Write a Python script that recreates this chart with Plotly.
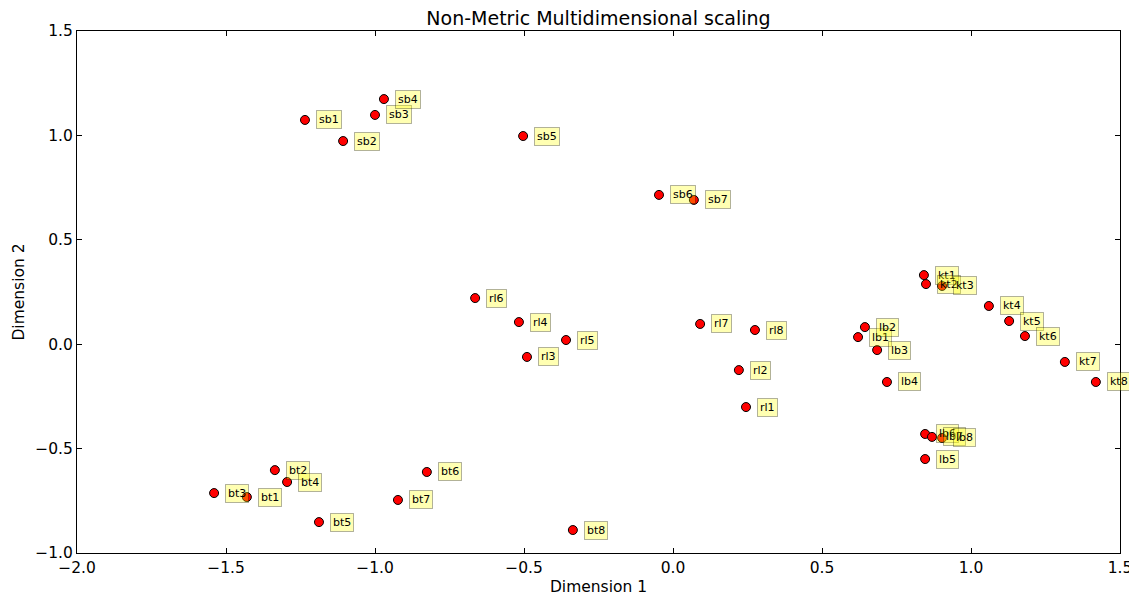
import plotly.graph_objects as go

labels = ["sb1","sb2","sb3","sb4","sb5","sb6","sb7",
          "kt1","kt2","kt3","kt4","kt5","kt6","kt7","kt8",
          "lb1","lb2","lb3","lb4","lb5","lb6","lb7","lb8",
          "rl1","rl2","rl3","rl4","rl5","rl6","rl7","rl8",
          "bt1","bt2","bt3","bt4","bt5","bt6","bt7","bt8"]
dim1 = [-1.235,-1.107,-1.000,-0.970,-0.503,-0.047,0.070,
        0.842,0.849,0.903,1.060,1.128,1.181,1.315,1.419,
        0.621,0.644,0.685,0.718,0.846,0.846,0.869,0.903,
        0.245,0.221,-0.490,-0.517,-0.359,-0.664,0.091,0.275,
        -1.430,-1.336,-1.540,-1.295,-1.188,-0.826,-0.923,-0.336]
dim2 = [1.074,0.973,1.098,1.174,0.997,0.715,0.691,
        0.331,0.288,0.279,0.183,0.111,0.039,-0.085,-0.181,
        0.034,0.082,-0.028,-0.181,-0.550,-0.430,-0.444,-0.449,
        -0.301,-0.124,-0.061,0.106,0.020,0.221,0.097,0.068,
        -0.732,-0.603,-0.713,-0.660,-0.852,-0.612,-0.746,-0.890]

xticks = [-2.0,-1.5,-1.0,-0.5,0.0,0.5,1.0,1.5]
yticks = [-1.0,-0.5,0.0,0.5,1.0,1.5]

def fmt(v):
    s = f"{v:.1f}"
    return s.replace("-", "\u2212")

font = "DejaVu Sans"
W, H = 1129, 588  # page body adds an 8px margin
fig = go.Figure()
fig.add_trace(go.Scatter(
    x=dim1, y=dim2, mode="markers",
    marker=dict(color="red", size=9, line=dict(color="black", width=1)),
    hoverinfo="skip", showlegend=False))

for lab, xv, yv in zip(labels, dim1, dim2):
    fig.add_annotation(x=xv, y=yv, xref="x", yref="y", text=lab,
                       showarrow=False, xanchor="left", yanchor="middle",
                       xshift=11, font=dict(family=font, size=11, color="black"),
                       bgcolor="rgba(255,255,0,0.3)",
                       bordercolor="rgba(0,0,0,0.3)", borderwidth=1, borderpad=2)

axis_common = dict(showline=True, linecolor="black", linewidth=1, mirror="ticks",
                   ticks="inside", ticklen=5, tickcolor="black", showgrid=False,
                   zeroline=False, automargin=False,
                   tickfont=dict(family=font, size=15.5, color="black"))

ml, mt = 69, 23
pw, ph = 1043, 522
fig.update_layout(
    width=W, height=H,
    margin=dict(l=ml, r=W - ml - pw, t=mt, b=H - mt - ph),
    plot_bgcolor="white", paper_bgcolor="white",
    title=dict(text="Non-Metric Multidimensional scaling", x=(ml + pw / 2) / W, xanchor="center",
               y=1 - 10 / H, yanchor="middle",
               font=dict(family=font, size=19, color="black")),
    xaxis=dict(range=[-2, 1.5], tickvals=xticks, ticktext=[fmt(v) for v in xticks],
               title=dict(text="Dimension 1", font=dict(family=font, size=15.5, color="black"), standoff=7),
               **axis_common),
    yaxis=dict(range=[-1, 1.5], tickvals=yticks, ticktext=[fmt(v) for v in yticks],
               title=dict(text="Dimension 2", font=dict(family=font, size=15.5, color="black"), standoff=6),
               **axis_common),
)

fig.write_html("out.html")
